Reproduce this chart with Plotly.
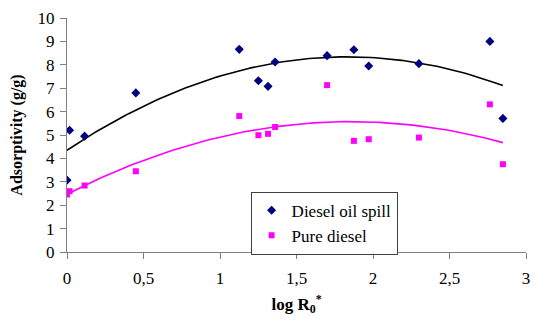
import numpy as np
import plotly.graph_objects as go

# log R0* values and adsorptivity (g/g) for each sample
log_r0 = [0.0, 0.017, 0.115, 0.45, 1.126, 1.251, 1.314, 1.36, 1.70, 1.875, 1.972, 2.30, 2.764, 2.849]
spill_ads = [3.07, 5.2, 4.95, 6.8, 8.66, 7.32, 7.08, 8.12, 8.39, 8.64, 7.95, 8.05, 9.0, 5.71]
pure_ads = [2.46, 2.60, 2.84, 3.45, 5.81, 4.99, 5.05, 5.34, 7.13, 4.75, 4.82, 4.89, 6.31, 3.75]

x_ticks = [0, 0.5, 1, 1.5, 2, 2.5, 3]
x_tick_text = ["0", "0,5", "1", "1,5", "2", "2,5", "3"]
y_ticks = list(range(0, 11))

FONT = "Times New Roman, Liberation Serif, serif"

def quad_trend(x, y):
    coef = np.polyfit(x, y, 2)
    xs = np.linspace(min(x), max(x), 100)
    return xs, np.polyval(coef, xs)

fig = go.Figure()

# second-order polynomial trend lines
xs, ys = quad_trend(log_r0, spill_ads)
fig.add_trace(go.Scatter(x=xs, y=ys, mode="lines", line=dict(color="black", width=1.6),
                         showlegend=False, hoverinfo="skip"))
xs, ys = quad_trend(log_r0, pure_ads)
fig.add_trace(go.Scatter(x=xs, y=ys, mode="lines", line=dict(color="#ff00ff", width=1.6),
                         showlegend=False, hoverinfo="skip"))

fig.add_trace(go.Scatter(x=log_r0, y=spill_ads, mode="markers", name="Diesel oil spill",
                         marker=dict(symbol="diamond", size=7, color="#000080")))
fig.add_trace(go.Scatter(x=log_r0, y=pure_ads, mode="markers", name="Pure diesel",
                         marker=dict(symbol="square", size=6, color="#ff00ff")))

fig.update_layout(
    width=535, height=320,
    margin=dict(l=67, r=5, t=18, b=68),
    paper_bgcolor="white", plot_bgcolor="white",
    font=dict(family=FONT, size=17, color="black"),
    legend=dict(x=0.40, y=0.258, xanchor="left", yanchor="top",
                bordercolor="#404040", borderwidth=1, bgcolor="white",
                font=dict(family=FONT, size=17), itemwidth=30,
                tracegroupgap=0),
)
fig.update_xaxes(range=[0, 3], tickvals=x_ticks, ticktext=x_tick_text,
                 showgrid=False, zeroline=False, showline=True, linecolor="#808080",
                 linewidth=1, ticks="outside", ticklen=6, tickcolor="#808080",
                 ticklabelstandoff=5,
                 tickfont=dict(family=FONT, size=17),
                 title=dict(text="<b>log R<sub>0</sub><sup>*</sup></b>",
                            font=dict(family=FONT, size=17), standoff=10))
fig.update_yaxes(range=[0, 10], tickvals=y_ticks,
                 showgrid=False, zeroline=False, showline=True, linecolor="#808080",
                 linewidth=1, ticks="outside", ticklen=6, tickcolor="#808080",
                 ticklabelstandoff=2,
                 tickfont=dict(family=FONT, size=17),
                 title=dict(text="<b>Adsorptivity (g/g)</b>",
                            font=dict(family=FONT, size=16), standoff=10))

fig.write_html("out.html")
